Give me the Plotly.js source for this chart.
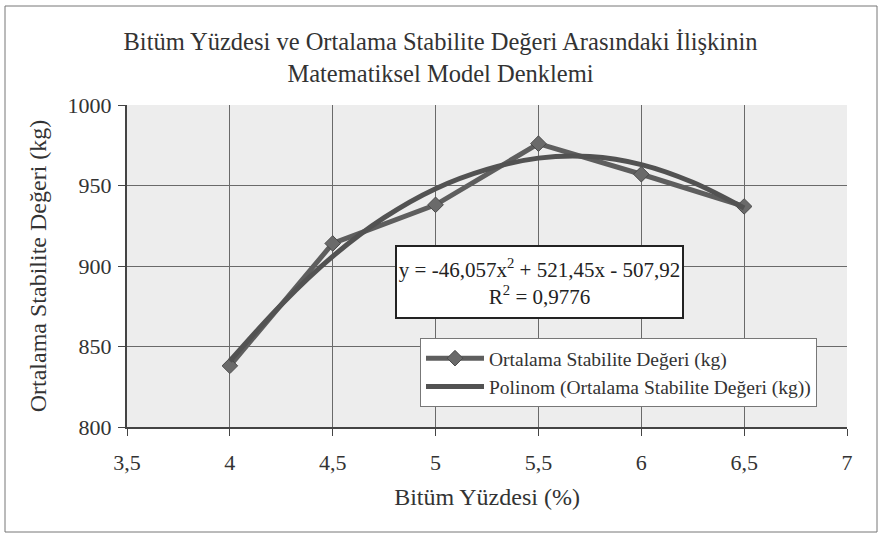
<!DOCTYPE html>
<html>
<head>
<meta charset="utf-8">
<script src="https://cdn.plot.ly/plotly-3.0.1.min.js"></script>
<style>html,body{margin:0;padding:0;background:#fff;}#chart{width:881px;height:539px;}</style>
</head>
<body>
<div id="chart"></div>
<script>
// Measured data
var bitumPercent = [4, 4.5, 5, 5.5, 6, 6.5];
var stability = [838, 914, 938, 976, 957, 937];
// Trendline values
var trendX = [4, 4.25, 4.5, 4.75, 5, 5.25, 5.5, 5.75, 6, 6.25, 6.5];
var trendY = [841, 876, 906, 930, 948, 960, 967, 968, 963, 952, 936];
var xTicks = [3.5, 4, 4.5, 5, 5.5, 6, 6.5, 7];
var xTickLabels = ['3,5', '4', '4,5', '5', '5,5', '6', '6,5', '7'];
var yTicks = [800, 850, 900, 950, 1000];

var serif = '"Liberation Serif", "Times New Roman", serif';

var traces = [
  {
    x: bitumPercent, y: stability, type: 'scatter', mode: 'lines+markers',
    name: 'Ortalama Stabilite Değeri (kg)',
    line: {color: '#5e5e5e', width: 5},
    marker: {symbol: 'diamond', size: 12, color: '#6a6a6a', line: {color: '#4a4a4a', width: 1}}
  },
  {
    x: trendX, y: trendY, type: 'scatter', mode: 'lines',
    name: 'Polinom (Ortalama Stabilite Değeri (kg))',
    line: {color: '#525252', width: 5, shape: 'spline'}
  }
];

var L = 127, R = 847, T = 105, B = 427, W = 881, H = 539;
function px(x){ return (x - L) / (R - L); }
function py(y){ return (B - y) / (B - T); }

var layout = {
  width: W, height: H,
  margin: {l: L, r: W - R, t: T, b: H - B, pad: 0},
  paper_bgcolor: '#ffffff',
  plot_bgcolor: '#ededed',
  font: {family: serif, color: '#333', size: 20},
  title: {
    text: 'Bitüm Yüzdesi ve Ortalama Stabilite Değeri Arasındaki İlişkinin<br>Matematiksel Model Denklemi',
    font: {family: serif, size: 24.5, color: '#333'},
    x: 0.5, xanchor: 'center', y: 1 - 50 / 539, yanchor: 'middle', yref: 'container'
  },
  xaxis: {
    range: [3.5, 7], tickvals: xTicks, ticktext: xTickLabels,
    showgrid: true, gridcolor: '#6a6a6a', gridwidth: 1,
    showline: true, linecolor: '#444', linewidth: 2,
    ticks: 'outside', ticklen: 7, tickcolor: '#444', ticklabelstandoff: 8,
    tickfont: {family: serif, size: 22, color: '#333'},
    zeroline: false,
    title: {text: 'Bitüm Yüzdesi (%)', font: {family: serif, size: 24, color: '#333'}, standoff: 14}
  },
  yaxis: {
    range: [800, 1000], tickvals: yTicks,
    showgrid: true, gridcolor: '#6a6a6a', gridwidth: 1,
    showline: true, linecolor: '#444', linewidth: 2,
    ticks: 'outside', ticklen: 7, tickcolor: '#444', ticklabelstandoff: 2,
    tickfont: {family: serif, size: 22, color: '#333'},
    zeroline: false,
    title: {text: 'Ortalama Stabilite Değeri (kg)', font: {family: serif, size: 24, color: '#333'}, standoff: 14}
  },
  showlegend: true,
  legend: {
    x: px(420), y: py(338), xanchor: 'left', yanchor: 'top',
    bgcolor: '#ffffff', bordercolor: '#777', borderwidth: 1,
    font: {family: serif, size: 19.5, color: '#333'},
    itemwidth: 58, tracegroupgap: 0
  },
  annotations: [{
    xref: 'paper', yref: 'paper',
    x: px(539.5), y: py(281.5), xanchor: 'center', yanchor: 'middle',
    text: 'y = -46,057x<sup>2</sup> + 521,45x - 507,92<br>R<sup>2</sup> = 0,9776',
    showarrow: false, align: 'center',
    font: {family: serif, size: 21, color: '#222'},
    bgcolor: '#ffffff', bordercolor: '#222', borderwidth: 2,
    width: 283, height: 68
  }],
  shapes: [{
    type: 'rect', xref: 'paper', yref: 'paper', layer: 'below',
    x0: px(5), x1: px(877), y0: py(532), y1: py(6),
    line: {color: '#777', width: 1}, fillcolor: 'rgba(0,0,0,0)'
  }]
};

Plotly.newPlot('chart', traces, layout, {displayModeBar: false, staticPlot: true});
</script>
</body>
</html>
